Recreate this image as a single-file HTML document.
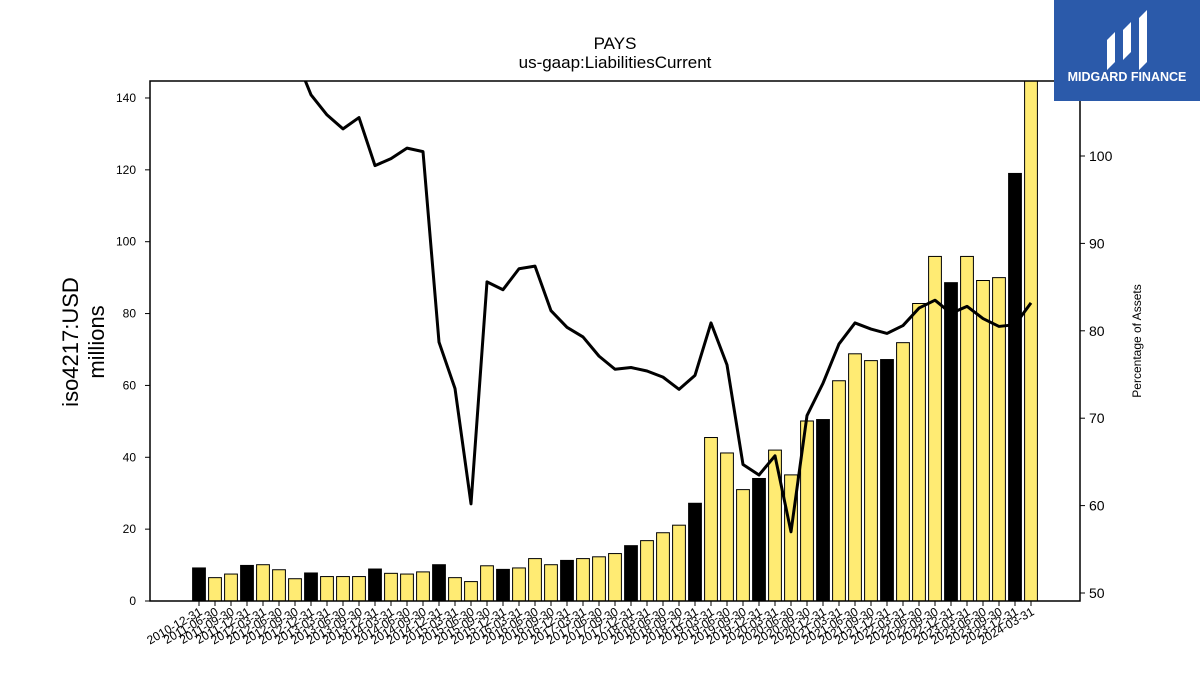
<!DOCTYPE html>
<html><head><meta charset="utf-8">
<style>
html,body{margin:0;padding:0;background:#fff;}
svg{display:block;font-family:"Liberation Sans",sans-serif;}
</style></head>
<body>
<svg id="chart" width="1200" height="675" viewBox="0 0 1200 675" xmlns="http://www.w3.org/2000/svg">
  <rect width="1200" height="675" fill="#fff"/>
  <text x="615" y="49" font-size="17" text-anchor="middle">PAYS</text>
  <text x="615" y="68" font-size="17" text-anchor="middle">us-gaap:LiabilitiesCurrent</text>
  <g transform="translate(82,342) rotate(-90)">
    <text x="0" y="-4" font-size="22" text-anchor="middle">iso4217:USD</text>
    <text x="0" y="22" font-size="22" text-anchor="middle">millions</text>
  </g>
  <text transform="translate(1141,341) rotate(-90)" font-size="12" text-anchor="middle">Percentage of Assets</text>
  <defs><clipPath id="plotclip"><rect x="150" y="81" width="930" height="520"/></clipPath></defs>
  <g id="bars" clip-path="url(#plotclip)"></g>
  <g id="line" clip-path="url(#plotclip)"></g>
  <rect x="150" y="81" width="930" height="520" fill="none" stroke="#000" stroke-width="1.5"/>
  <g id="axes"></g>
  <g>
    <rect x="1054" y="0" width="146" height="101" fill="#2b5aaa"/>
    <path d="M1107 70 L1107 40 L1115 32 L1115 62 Z M1123 60 L1123 30 L1131 22 L1131 52 Z M1139 70 L1139 18 L1147 10 L1147 62 Z" fill="#fff"/>
    <text x="1127" y="81" font-size="12.5" font-weight="bold" fill="#fff" text-anchor="middle">MIDGARD FINANCE</text>
  </g>
</svg>
<script>
const dates = ["2010-12-31","2011-06-30","2011-09-30","2011-12-31","2012-03-31","2012-06-30","2012-09-30","2012-12-31","2013-03-31","2013-06-30","2013-09-30","2013-12-31","2014-03-31","2014-06-30","2014-09-30","2014-12-31","2015-03-31","2015-06-30","2015-09-30","2015-12-31","2016-03-31","2016-06-30","2016-09-30","2016-12-31","2017-03-31","2017-06-30","2017-09-30","2017-12-31","2018-03-31","2018-06-30","2018-09-30","2018-12-31","2019-03-31","2019-06-30","2019-09-30","2019-12-31","2020-03-31","2020-06-30","2020-09-30","2020-12-31","2021-03-31","2021-06-30","2021-09-30","2021-12-31","2022-03-31","2022-06-30","2022-09-30","2022-12-31","2023-03-31","2023-06-30","2023-09-30","2023-12-31","2024-03-31"];
const liabilities = [9.2,6.5,7.5,9.9,10.1,8.7,6.2,7.8,6.8,6.8,6.8,8.9,7.7,7.5,8.1,10.1,6.5,5.4,9.8,8.8,9.2,11.8,10.1,11.3,11.8,12.3,13.2,15.4,16.8,19.0,21.1,27.2,45.5,41.2,31.0,34.1,42.0,35.1,50.1,50.5,61.3,68.8,66.9,67.2,71.9,82.8,95.9,88.6,95.9,89.2,90.0,119.0,160.0];
const pctAssets = [125,122,120,118,116,114,111.5,107.0,104.7,103.1,104.4,98.9,99.7,100.9,100.5,78.7,73.4,60.2,85.6,84.7,87.1,87.4,82.3,80.4,79.3,77.1,75.6,75.8,75.4,74.7,73.3,74.9,80.9,76.1,64.7,63.5,65.7,57.0,70.3,74.0,78.5,80.9,80.2,79.7,80.6,82.6,83.5,82.0,82.8,81.4,80.5,80.7,83.2];
const leftTicks = [0,20,40,60,80,100,120,140];
const rightTicks = [50,60,70,80,90,100];

const NS = "http://www.w3.org/2000/svg";
const xPos = i => 199 + 16 * i;
const yLeft = v => 601 - v * 3.593;
const yRight = v => 593 - (v - 50) * 8.74;
function mk(tag, attrs, parent) {
  const e = document.createElementNS(NS, tag);
  for (const k in attrs) e.setAttribute(k, attrs[k]);
  parent.appendChild(e);
  return e;
}
const gb = document.getElementById('bars');
liabilities.forEach((v, i) => {
  const isQ4 = dates[i].endsWith('12-31');
  const r = mk('rect', {x: xPos(i) - 6.4, y: yLeft(v), width: 12.8, height: 601 - yLeft(v), fill: isQ4 ? '#000' : '#ffeb73', stroke: '#000', 'stroke-width': 1}, gb);
  
  
});
const gl = document.getElementById('line');
const pts = pctAssets.map((v, i) => xPos(i) + ',' + yRight(v)).join(' ');
const pl = mk('polyline', {points: pts, fill: 'none', stroke: '#000', 'stroke-width': 3, 'stroke-linejoin': 'round'}, gl);



const ga = document.getElementById('axes');
leftTicks.forEach(t => {
  const y = yLeft(t);
  mk('line', {x1: 145, x2: 150, y1: y, y2: y, stroke: '#000', 'stroke-width': 1}, ga);
  const tx = mk('text', {x: 136, y: y + 4, 'font-size': 12, 'text-anchor': 'end'}, ga);
  tx.textContent = t;
  
  
});
rightTicks.forEach(t => {
  const y = yRight(t);
  mk('line', {x1: 1080, x2: 1085, y1: y, y2: y, stroke: '#000', 'stroke-width': 1}, ga);
  const tx = mk('text', {x: 1089, y: y + 5, 'font-size': 14, 'text-anchor': 'start'}, ga);
  tx.textContent = t;
  
  
});
dates.forEach((d, i) => {
  const x = xPos(i);
  mk('line', {x1: x, x2: x, y1: 601, y2: 606, stroke: '#000', 'stroke-width': 1}, ga);
  const tx = mk('text', {transform: 'translate(' + (x + 4) + ',614) rotate(-30)', 'font-size': 12, 'text-anchor': 'end'}, ga);
  tx.textContent = d;
  
  
});
</script>
</body></html>
